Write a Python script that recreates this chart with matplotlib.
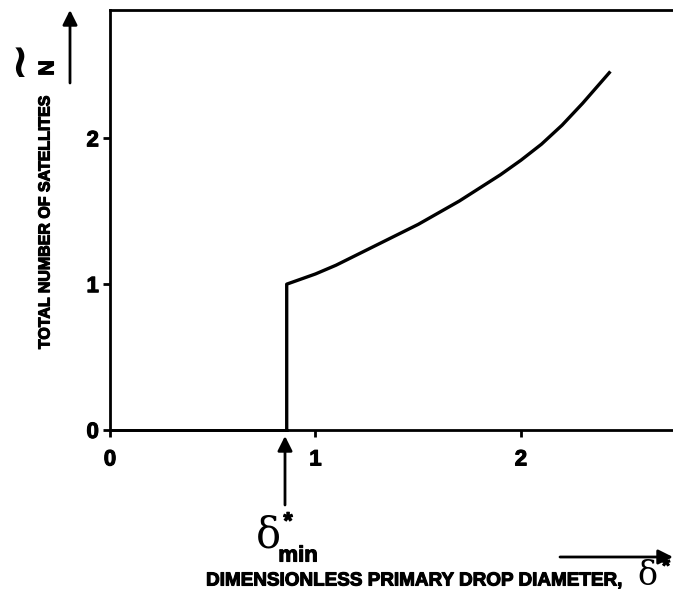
import numpy as np
import matplotlib
matplotlib.use("Agg")
import matplotlib.pyplot as plt
import matplotlib.patheffects as pe

# curve
delta = [0.86, 0.9, 1.0, 1.1, 1.2, 1.3, 1.4, 1.5, 1.6, 1.7, 1.8, 1.9, 2.0, 2.1, 2.2, 2.3, 2.43]
n_sat = [1.0, 1.02, 1.07, 1.13, 1.20, 1.27, 1.34, 1.41, 1.49, 1.57, 1.66, 1.75, 1.85, 1.96, 2.09, 2.24, 2.45]
delta_min = 0.86
xticks = [0, 1, 2]
yticks = [0, 1, 2]

W, H = 673, 592
plt.rcParams['font.family'] = ['Liberation Sans', 'DejaVu Sans']
plt.rcParams['font.weight'] = 'bold'
heavy = [pe.withStroke(linewidth=0.8, foreground='k')]

def px(x, y):
    return x / W, 1 - y / H

fig = plt.figure(figsize=(W / 100, H / 100), dpi=100)
ax = fig.add_axes([110 / W, (H - 430) / H, (W - 110) / W, 420 / H])

# zero until delta_min, then jump and rising curve
ax.plot([0, delta_min], [0, 0], color='k', lw=2, clip_on=False)
ax.plot([delta_min] + delta, [0] + n_sat, color='k', lw=2.4, clip_on=False)

ax.set_xlim(0, 2.74)
ax.set_ylim(0, 2.88)
ax.set_xticks(xticks)
ax.set_yticks(yticks)
ax.set_xticklabels([str(t) for t in xticks], fontsize=16, fontweight='bold')
ax.set_yticklabels([str(t) for t in yticks], fontsize=16, fontweight='bold')
for lab in ax.get_xticklabels() + ax.get_yticklabels():
    lab.set_path_effects(heavy)
ax.tick_params(axis='x', direction='out', length=5, width=2, pad=9)
ax.tick_params(axis='y', direction='out', length=5, width=2, pad=3)
ax.spines['right'].set_visible(False)
for s in ['left', 'bottom', 'top']:
    ax.spines[s].set_linewidth(2)

# y label and N~ symbol
fig.text(*px(45, 222), "TOTAL NUMBER OF SATELLITES", rotation=90, fontsize=11.5,
         fontweight='bold', ha='center', va='center', path_effects=heavy)
fig.text(*px(48, 68), "N", rotation=90, fontsize=15.5, fontweight='bold', ha='center',
         va='center', path_effects=heavy)
fig.text(*px(0, 68), r"$\sim$", rotation=90, fontsize=34, ha='left', va='center')

# x label
fig.text(*px(414, 581), "DIMENSIONLESS PRIMARY DROP DIAMETER,", fontsize=13.6,
         fontweight='bold', ha='center', va='center', path_effects=heavy)
fig.text(*px(647, 576), "\u03b4", fontsize=24, family='DejaVu Serif', fontweight='normal',
         ha='center', va='center')
fig.text(*px(666, 567), "*", fontsize=15, fontweight='bold', ha='center', va='center',
         path_effects=heavy)

# delta_min label
fig.text(*px(268, 535), "\u03b4", fontsize=30, family='DejaVu Serif', fontweight='normal',
         ha='center', va='center')
fig.text(*px(288, 522), "*", fontsize=17, fontweight='bold', ha='center', va='center',
         path_effects=heavy)
fig.text(*px(298, 556), "min", fontsize=16, fontweight='bold', ha='center', va='center',
         path_effects=heavy)

arrow = dict(arrowstyle='-|>', lw=2, color='k', mutation_scale=22, shrinkA=0, shrinkB=0)
ax.annotate("", xy=px(285, 436), xytext=px(285, 505), xycoords='figure fraction',
            textcoords='figure fraction', arrowprops=arrow, annotation_clip=False)
ax.annotate("", xy=px(70, 10), xytext=px(70, 83), xycoords='figure fraction',
            textcoords='figure fraction', arrowprops=arrow, annotation_clip=False)
ax.annotate("", xy=px(673, 557), xytext=px(560, 557), xycoords='figure fraction',
            textcoords='figure fraction', arrowprops=arrow, annotation_clip=False)

fig.savefig("out.png", dpi=100)
